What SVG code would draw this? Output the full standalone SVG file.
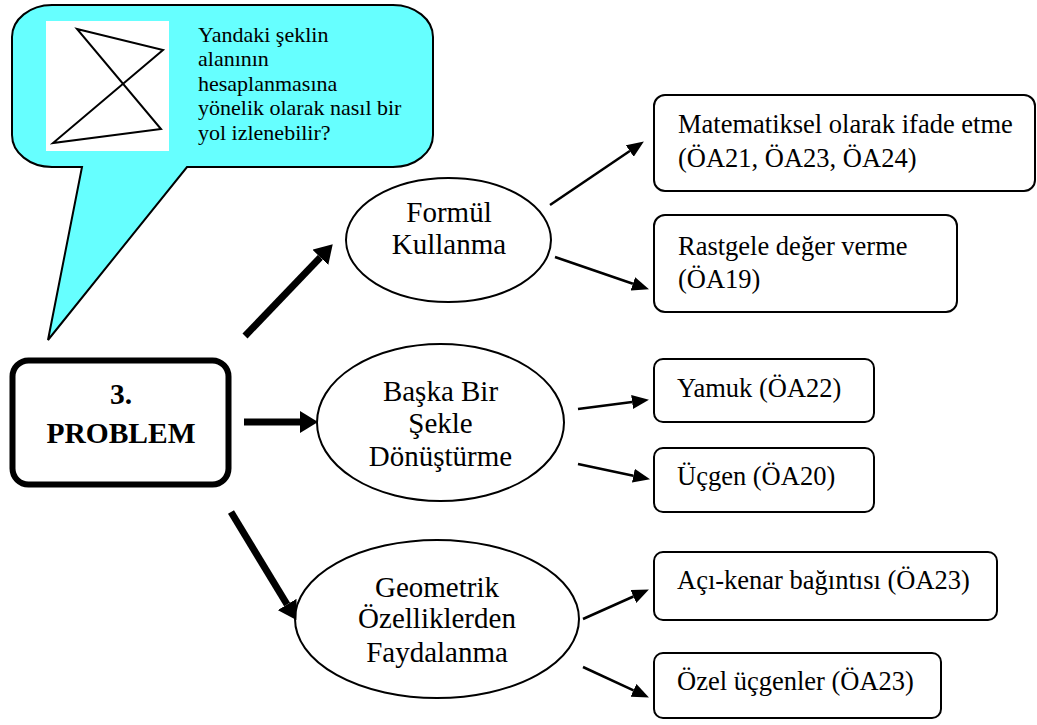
<svg xmlns="http://www.w3.org/2000/svg" width="1037" height="725" viewBox="0 0 1037 725" font-family="'Liberation Serif', 'Times New Roman', Times, serif">
<defs>
<style>
.cap{font-size:22px}
.el{font-size:29px}
.bx{font-size:26.5px}
.node{fill:#fff;stroke:#000;stroke-width:2}
.thick{stroke:#000;stroke-width:7;fill:none}
.thin{stroke:#000;stroke-width:2.5;fill:none}
</style>
<marker id="hb" markerUnits="userSpaceOnUse" markerWidth="18" markerHeight="22" refX="0" refY="11" orient="auto">
<path d="M0,0 L18,11 L0,22 z" fill="#000"/>
</marker>
<marker id="hs" markerUnits="userSpaceOnUse" markerWidth="17" markerHeight="14" refX="0" refY="7" orient="auto">
<path d="M0,0 L17,7 L0,14 z" fill="#000"/>
</marker>
</defs>
<rect width="1037" height="725" fill="#fff"/>

<g id="callout">
<path d="M52,5 H393 A40 32 0 0 1 433,37 V135 A40 32 0 0 1 393,167 H187 L48,340 L82,167 H52 A40 32 0 0 1 12,135 V37 A40 32 0 0 1 52,5 Z" fill="#66FFFF" stroke="#000" stroke-width="2"/>
<rect x="46" y="21" width="123" height="130" fill="#fff"/>
<path d="M77,29 L163,50 L53,143 L161,129 Z" fill="none" stroke="#000" stroke-width="2"/>
<text class="cap" x="198" y="42">Yandaki şeklin</text>
<text class="cap" x="198" y="66">alanının</text>
<text class="cap" x="198" y="91">hesaplanmasına</text>
<text class="cap" x="198" y="115">yönelik olarak nasıl bir</text>
<text class="cap" x="198" y="140">yol izlenebilir?</text>
</g>

<g id="problem">
<rect x="12.5" y="360.5" width="216" height="124" rx="16" fill="#fff" stroke="#000" stroke-width="6"/>
<text x="121" y="404" font-size="29.5" font-weight="bold" text-anchor="middle">3.</text>
<text x="121" y="443" font-size="29.5" font-weight="bold" text-anchor="middle">PROBLEM</text>
</g>

<g id="formul">
<ellipse class="node" cx="448.5" cy="240" rx="102.5" ry="62"/>
<text class="el" x="449" y="222" text-anchor="middle">Formül</text>
<text class="el" x="449" y="254" text-anchor="middle">Kullanma</text>
</g>

<g id="baska">
<ellipse class="node" cx="440.5" cy="422.5" rx="123.5" ry="78.5"/>
<text class="el" x="440.5" y="401" text-anchor="middle">Başka Bir</text>
<text class="el" x="440.5" y="433" text-anchor="middle">Şekle</text>
<text class="el" x="440.5" y="466" text-anchor="middle">Dönüştürme</text>
</g>

<g id="geometrik">
<ellipse class="node" cx="437" cy="619" rx="142" ry="79"/>
<text class="el" x="437" y="597" text-anchor="middle">Geometrik</text>
<text class="el" x="437" y="628" text-anchor="middle">Özelliklerden</text>
<text class="el" x="437" y="662" text-anchor="middle">Faydalanma</text>
</g>

<g id="matematiksel">
<rect class="node" x="654" y="95" width="381" height="96" rx="11"/>
<text class="bx" x="678" y="133">Matematiksel olarak ifade etme</text>
<text class="bx" x="678" y="167">(ÖA21, ÖA23, ÖA24)</text>
</g>

<g id="rastgele">
<rect class="node" x="654" y="215" width="303" height="97" rx="11"/>
<text class="bx" x="678" y="255">Rastgele değer verme</text>
<text class="bx" x="678" y="288">(ÖA19)</text>
</g>

<g id="yamuk">
<rect class="node" x="654" y="359" width="220" height="63" rx="9"/>
<text class="bx" x="677" y="397">Yamuk (ÖA22)</text>
</g>

<g id="ucgen">
<rect class="node" x="654" y="448" width="220" height="64" rx="9"/>
<text class="bx" x="677" y="485">Üçgen (ÖA20)</text>
</g>

<g id="aci">
<rect class="node" x="654" y="552" width="343" height="68" rx="9"/>
<text class="bx" x="677" y="589">Açı-kenar bağıntısı (ÖA23)</text>
</g>

<g id="ozel">
<rect class="node" x="654" y="653" width="287" height="65" rx="9"/>
<text class="bx" x="677" y="690">Özel üçgenler (ÖA23)</text>
</g>

<g id="connectors">
<line class="thick" x1="245" y1="336" x2="320.3" y2="257.3" marker-end="url(#hb)"/>
<line class="thick" x1="244" y1="422" x2="300" y2="422" marker-end="url(#hb)"/>
<line class="thick" x1="231" y1="512" x2="287.1" y2="604.5" marker-end="url(#hb)"/>
<line class="thin" x1="550" y1="205" x2="629.8" y2="151" marker-end="url(#hs)"/>
<line class="thin" x1="555" y1="257" x2="632.9" y2="283.8" marker-end="url(#hs)"/>
<line class="thin" x1="578" y1="409" x2="632.1" y2="402" marker-end="url(#hs)"/>
<line class="thin" x1="578" y1="464" x2="633.4" y2="475.7" marker-end="url(#hs)"/>
<line class="thin" x1="583" y1="619" x2="633.4" y2="596.5" marker-end="url(#hs)"/>
<line class="thin" x1="583" y1="667" x2="633.5" y2="690.3" marker-end="url(#hs)"/>
</g>
</svg>
